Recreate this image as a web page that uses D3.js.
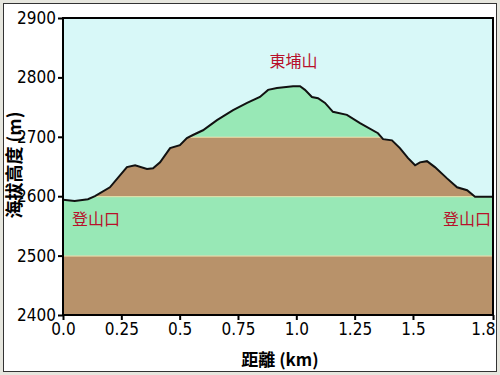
<!DOCTYPE html>
<html>
<head>
<meta charset="utf-8">
<script src="https://cdn.jsdelivr.net/npm/d3@7"></script>
<style>
  body { margin: 0; background: #e6e6de; }
  svg { display: block; }
</style>
</head>
<body>
<div id="chart"></div>
<script>
// distance along trail (km) and elevation (m)
var distKm = [0, 0.05, 0.107, 0.137, 0.201, 0.274, 0.309, 0.36, 0.386, 0.416, 0.459, 0.501, 0.531, 0.557,
    0.6, 0.66, 0.729, 0.789, 0.844, 0.879, 0.917, 0.986, 1.016, 1.037, 1.067, 1.093, 1.123, 1.157,
    1.217, 1.273, 1.35, 1.372, 1.41, 1.444, 1.479, 1.509, 1.53, 1.56, 1.594, 1.646, 1.689, 1.732,
    1.766, 1.843];
var elevM = [2594, 2592, 2595, 2600, 2615, 2649, 2652, 2646, 2647, 2657, 2681, 2686, 2698, 2703,
    2711, 2728, 2745, 2757, 2767, 2779, 2782, 2785, 2785, 2779, 2767, 2765, 2757, 2742,
    2737, 2723, 2706, 2696, 2694, 2681, 2664, 2652, 2657, 2659, 2649, 2630, 2615, 2610,
    2599, 2599];

var xTicks = [0, 0.25, 0.5, 0.75, 1.0, 1.25, 1.5, 1.843];
var xTickLabels = ["0.0", "0.25", "0.5", "0.75", "1.0", "1.25", "1.5", "1.8"];
var yTicks = [2400, 2500, 2600, 2700, 2800, 2900];

// colour bands under the profile
var bands = [
    {lo: 2400, hi: 2500, color: "#b8926a"},
    {lo: 2500, hi: 2600, color: "#98e8b6"},
    {lo: 2600, hi: 2700, color: "#b8926a"},
    {lo: 2700, hi: 2800, color: "#98e8b6"},
    {lo: 2800, hi: 2900, color: "#b8926a"}
];

var labels = [
    {text: "東埔山", x: 0.988, y: 2818},
    {text: "登山口", x: 0.142, y: 2552},
    {text: "登山口", x: 1.732, y: 2552}
];

var W = 500, H = 375;
var margin = {top: 18, right: 7, bottom: 60, left: 63};

var svg = d3.select("#chart").append("svg")
    .attr("width", W)
    .attr("height", H);

// outer frame
svg.append("rect")
    .attr("x", 3.5).attr("y", 3.5)
    .attr("width", 493).attr("height", 368)
    .attr("fill", "#fff")
    .attr("stroke", "#333")
    .attr("stroke-width", 1);

var x = d3.scaleLinear().domain([0, 1.843]).range([margin.left, W - margin.right]);
var y = d3.scaleLinear().domain([2400, 2900]).range([H - margin.bottom, margin.top]);

var pts = distKm.map(function(d, i) { return [d, elevM[i]]; });

// sky
svg.append("rect")
    .attr("x", x(0)).attr("y", y(2900))
    .attr("width", x(1.843) - x(0))
    .attr("height", y(2400) - y(2900))
    .attr("fill", "#d8f8f8");

var area = d3.area()
    .x(function(d) { return x(d[0]); })
    .y0(y(2400))
    .y1(function(d) { return y(d[1]); });

svg.append("clipPath").attr("id", "ground")
    .append("path").attr("d", area(pts));

var g = svg.append("g").attr("clip-path", "url(#ground)");
g.selectAll("rect.band").data(bands)
    .enter().append("rect")
    .attr("class", "band")
    .attr("x", x(0))
    .attr("width", x(1.843) - x(0))
    .attr("y", function(d) { return y(d.hi); })
    .attr("height", function(d) { return y(d.lo) - y(d.hi); })
    .attr("fill", function(d) { return d.color; });

// thin light line between bands
g.selectAll("line.sep").data([2500, 2600, 2700, 2800])
    .enter().append("line")
    .attr("x1", x(0)).attr("x2", x(1.843))
    .attr("y1", function(d) { return y(d) + 0.5; })
    .attr("y2", function(d) { return y(d) + 0.5; })
    .attr("stroke", "#e8e0a8")
    .attr("stroke-width", 1);

var line = d3.line()
    .x(function(d) { return x(d[0]); })
    .y(function(d) { return y(d[1]); });

svg.append("path")
    .attr("d", line(pts))
    .attr("fill", "none")
    .attr("stroke", "#111")
    .attr("stroke-width", 2);

// plot frame
svg.append("rect")
    .attr("x", x(0)).attr("y", y(2900))
    .attr("width", x(1.843) - x(0))
    .attr("height", y(2400) - y(2900))
    .attr("fill", "none")
    .attr("stroke", "#000")
    .attr("stroke-width", 2);

var tickFont = "'Liberation Sans Narrow', 'DejaVu Sans Condensed', sans-serif";

var xAxis = svg.append("g")
    .attr("transform", "translate(0," + y(2400) + ")")
    .call(d3.axisBottom(x).tickValues(xTicks).tickSize(5).tickPadding(3)
        .tickFormat(function(d, i) { return xTickLabels[i]; }));
var yAxis = svg.append("g")
    .attr("transform", "translate(" + x(0) + ",0)")
    .call(d3.axisLeft(y).tickValues(yTicks).tickSize(5).tickPadding(2).tickFormat(d3.format("d")));

[xAxis, yAxis].forEach(function(ax) {
    ax.select(".domain").remove();
    ax.selectAll(".tick line").attr("stroke", "#000").attr("stroke-width", 2);
    ax.selectAll("text")
        .attr("fill", "#000")
        .style("font-family", tickFont)
        .style("font-size", "17px");
});
xAxis.selectAll(".tick text")
    .attr("text-anchor", function(d, i) { return i == xTicks.length - 1 ? "end" : "middle"; })
    .attr("dx", function(d, i) { return i == xTicks.length - 1 ? 2 : 0; });

var cjk = "'Noto Sans CJK TC', 'Noto Sans CJK SC', sans-serif";

svg.append("text")
    .attr("x", 280).attr("y", 366)
    .attr("text-anchor", "middle")
    .style("font-family", cjk)
    .style("font-size", "17px")
    .style("font-weight", "bold")
    .attr("fill", "#000")
    .text("距離 (km)");

svg.append("text")
    .attr("transform", "translate(21,165) rotate(-90)")
    .attr("text-anchor", "middle")
    .style("font-family", cjk)
    .style("font-size", "18px")
    .style("font-weight", "bold")
    .attr("fill", "#000")
    .text("海拔高度 (m)");

svg.selectAll("text.place").data(labels)
    .enter().append("text")
    .attr("class", "place")
    .attr("x", function(d) { return x(d.x); })
    .attr("y", function(d) { return y(d.y); })
    .attr("text-anchor", "middle")
    .style("font-family", cjk)
    .style("font-size", "16px")
    .attr("fill", "#b8102a")
    .text(function(d) { return d.text; });
</script>
</body>
</html>
